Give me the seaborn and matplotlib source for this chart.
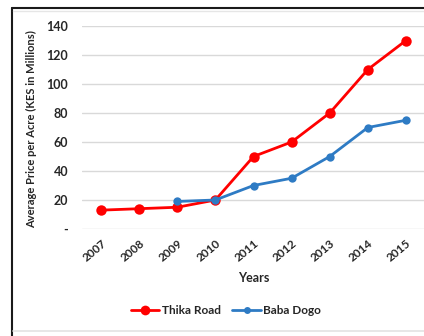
import matplotlib
matplotlib.use("Agg")
import matplotlib.pyplot as plt
import seaborn as sns
import pandas as pd
from matplotlib.lines import Line2D

years = [2007, 2008, 2009, 2010, 2011, 2012, 2013, 2014, 2015]
thika_road = [13, 14, 15, 20, 50, 60, 80, 110, 130]
baba_dogo_years = [2009, 2010, 2011, 2012, 2013, 2014, 2015]
baba_dogo = [19, 20, 30, 35, 50, 70, 75]
y_ticks = [0, 20, 40, 60, 80, 100, 120, 140]
y_tick_labels = ["-", "20", "40", "60", "80", "100", "120", "140"]

RED = "#FF0000"
BLUE = "#2E7BC4"

sns.set_theme(style="white")
plt.rcParams["font.family"] = ["Lato", "DejaVu Sans"]
plt.rcParams["font.weight"] = "bold"

df_thika = pd.DataFrame({"Year": years, "Price": thika_road, "Area": "Thika Road"})
df_baba = pd.DataFrame({"Year": baba_dogo_years, "Price": baba_dogo, "Area": "Baba Dogo"})

fig = plt.figure(figsize=(4.24, 3.36), dpi=100)
ax = fig.add_axes([82 / 424, 1 - 229 / 336, 343 / 424, 203 / 336])

sns.lineplot(data=df_thika, x="Year", y="Price", ax=ax, color=RED, linewidth=2,
             marker="o", markersize=7.5, markeredgewidth=0, label="Thika Road")
sns.lineplot(data=df_baba, x="Year", y="Price", ax=ax, color=BLUE, linewidth=2,
             marker="o", markersize=6, markeredgewidth=0, label="Baba Dogo")

ax.set_xlim(2006.5, 2015.5)
ax.set_ylim(0, 140)
ax.set_yticks(y_ticks)
ax.set_yticklabels(y_tick_labels, fontsize=9, fontweight="bold", color="#262626")
ax.set_xticks(years)
ax.set_xticklabels([str(y) for y in years], rotation=40, ha="right", va="top",
                   rotation_mode="anchor", fontsize=8.5, fontweight="bold", color="#262626")
ax.tick_params(axis="both", length=0, pad=6)
ax.tick_params(axis="y", pad=10)
ax.grid(axis="y", color="#D9D9D9", linewidth=1)
ax.set_axisbelow(True)
for s in ax.spines.values():
    s.set_visible(False)

ax.set_xlabel("Years", fontsize=9, fontweight="bold", color="#262626")
ax.set_ylabel("Average Price per Acre (KES in Millions)", fontsize=8,
              fontweight="bold", color="#262626")
ax.yaxis.set_label_coords(-0.13, 0.49)
ax.xaxis.set_label_coords(0.5, -0.21)

ax.legend_.remove()
handles = [
    Line2D([0], [0], color=RED, linewidth=2, marker="o", markersize=7, markeredgewidth=0),
    Line2D([0], [0], color=BLUE, linewidth=2, marker="o", markersize=5, markeredgewidth=0),
]
fig.legend(handles, ["Thika Road", "Baba Dogo"], loc="center",
           bbox_to_anchor=(226 / 424, 1 - 311 / 336), ncol=2, frameon=False,
           handlelength=2.4, handletextpad=0.2, columnspacing=1.0,
           prop={"size": 8.5, "weight": "bold"})

# chart frame
fig.add_artist(Line2D([11.5 / 424, 11.5 / 424], [0, 1 - 7.5 / 336],
                      transform=fig.transFigure, color="#1A1A1A", linewidth=1.5))
fig.add_artist(Line2D([11.5 / 424, 1], [1 - 7.5 / 336, 1 - 7.5 / 336],
                      transform=fig.transFigure, color="#1A1A1A", linewidth=1.5))
fig.add_artist(Line2D([13 / 424, 1], [1 - 10.5 / 336, 1 - 10.5 / 336],
                      transform=fig.transFigure, color="#E6E6E6", linewidth=1))
fig.add_artist(Line2D([13 / 424, 1], [1 - 330.5 / 336, 1 - 330.5 / 336],
                      transform=fig.transFigure, color="#E3E3E3", linewidth=1.2))

fig.savefig("out.png", dpi=100)
